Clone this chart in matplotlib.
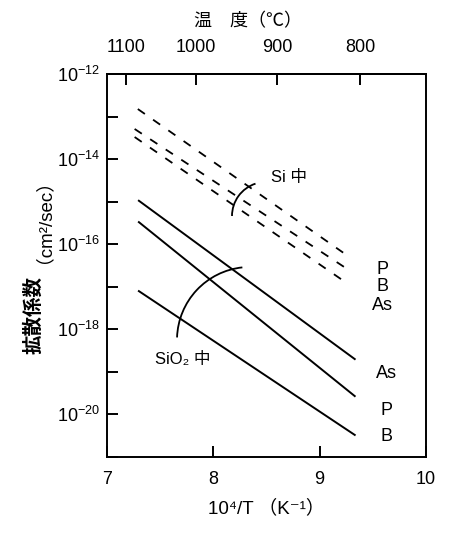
import matplotlib
matplotlib.use("Agg")
import matplotlib.pyplot as plt
from matplotlib.patches import Arc
from matplotlib.ticker import NullLocator

plt.rcParams['font.family'] = ['Liberation Sans', 'Noto Sans CJK JP', 'DejaVu Sans']
plt.rcParams['mathtext.fontset'] = 'custom'
plt.rcParams['mathtext.rm'] = 'Liberation Sans'
plt.rcParams['mathtext.it'] = 'Liberation Sans:italic'
plt.rcParams['mathtext.bf'] = 'Liberation Sans:bold'
plt.rcParams['lines.scale_dashes'] = False

# ---- data ----
# diffusion in Si (dashed)
si_P_x = [7.29, 9.29]
si_P_D = [1.5e-13, 4.8e-17]
si_B_x = [7.26, 9.30]
si_B_D = [5.1e-14, 2.24e-17]
si_As_x = [7.26, 9.27]
si_As_D = [3.3e-14, 1.15e-17]
# diffusion in SiO2 (solid)
sio2_As_x = [7.30, 9.33]
sio2_As_D = [1.05e-15, 2.0e-19]
sio2_P_x = [7.30, 9.33]
sio2_P_D = [3.3e-16, 2.7e-20]
sio2_B_x = [7.30, 9.33]
sio2_B_D = [7.9e-18, 3.3e-21]

# top temperature axis
top_tick_pos = [7.18, 7.84, 8.60, 9.38]
top_tick_labels = ['1100', '1000', '900', '800']

x_ticks = [7, 8, 9, 10]
y_exponents = list(range(-21, -11))

# right-hand labels
si_label_names = ['P', 'B', 'As']
si_label_y = [2.6e-17, 1.0e-17, 3.7e-18]
sio2_label_names = ['As', 'P', 'B']
sio2_label_y = [9.3e-20, 1.26e-20, 3.1e-21]

# ---- figure ----
fig = plt.figure(figsize=(4.74, 5.36), dpi=100)
ax = fig.add_axes([0.2257, 0.1474, 0.673, 0.7146])
ax.set_yscale('log')
ax.set_xlim(7, 10)
ax.set_ylim(1e-21, 1e-12)

lw = 1.4
dash = (0, (6.2, 7.2))
for xs, ds in [(si_P_x, si_P_D), (si_B_x, si_B_D), (si_As_x, si_As_D)]:
    ax.plot(xs, ds, color='black', lw=1.3, linestyle=dash)
for xs, ds in [(sio2_As_x, sio2_As_D), (sio2_P_x, sio2_P_D), (sio2_B_x, sio2_B_D)]:
    ax.plot(xs, ds, color='black', lw=lw)

for spine in ax.spines.values():
    spine.set_linewidth(lw)

ax.set_xticks(x_ticks)
ax.set_xticklabels([str(v) for v in x_ticks])
ax.set_yticks([10.0 ** e for e in y_exponents])
ax.set_yticklabels([r'$\mathregular{10^{%d}}$' % e if e % 2 == 0 else '' for e in y_exponents])
ax.yaxis.set_minor_locator(NullLocator())
ax.tick_params(axis='x', direction='in', length=8, width=lw, pad=10, labelsize=13, top=False)
ax.tick_params(axis='y', direction='in', length=8, width=lw, pad=5, labelsize=13, right=False)

sec = ax.secondary_xaxis('top')
sec.set_xticks(top_tick_pos)
sec.set_xticklabels(top_tick_labels)
sec.tick_params(axis='x', direction='in', length=8, width=lw, pad=13, labelsize=13)
sec.spines['top'].set_linewidth(lw)

# labels at right
for name, y in zip(si_label_names, si_label_y):
    ax.text(9.59, y, name, ha='center', va='center', fontsize=13)
for name, y in zip(sio2_label_names, sio2_label_y):
    ax.text(9.63, y, name, ha='center', va='center', fontsize=13)

ax.text(8.71, 10 ** -14.44, 'Si 中', ha='center', va='center', fontsize=12)
ax.text(7.71, 10 ** -18.70, 'SiO₂ 中', ha='center', va='center', fontsize=12)

# bracket arcs (figure inches)
fig.add_artist(Arc((2.66, 3.20), 0.68, 0.68, theta1=108, theta2=180,
                   transform=fig.dpi_scale_trans, lw=1.3, color='black'))
fig.add_artist(Arc((2.50, 1.96), 1.46, 1.46, theta1=96, theta2=178,
                   transform=fig.dpi_scale_trans, lw=1.3, color='black'))

# titles
fig.text(248 / 474, 1 - 22 / 536, '温　度（℃）', ha='center', va='center', fontsize=13)
fig.text(266 / 474, 1 - 508 / 536, '10⁴/T （K⁻¹）', ha='center', va='center', fontsize=13.5)
fig.text(34 / 474, 1 - 315 / 536, '拡散係数', ha='center', va='center', rotation=90,
         fontsize=14, fontweight='bold')
fig.text(34 / 474, 1 - 212 / 536, '（cm²/sec）', ha='center', va='center', rotation=90,
         fontsize=13.5)

fig.savefig('out.png', dpi=100)
